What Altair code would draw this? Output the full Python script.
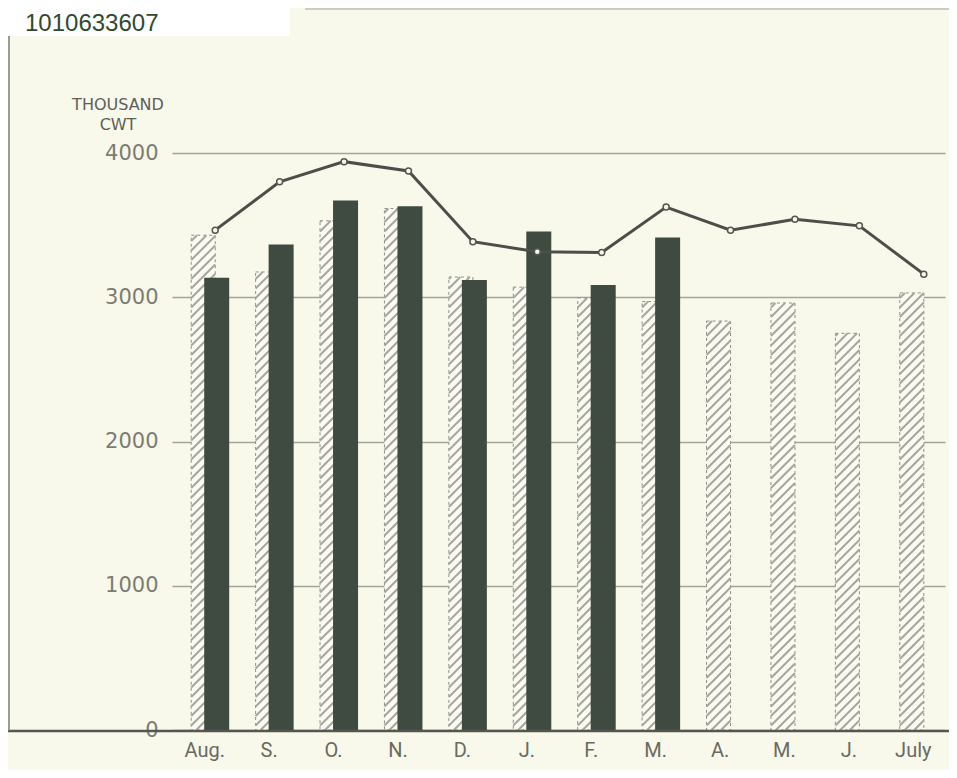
import altair as alt
import pandas as pd

# ---- data ----
months = ["Aug.", "S.", "O.", "N.", "D.", "J.", "F.", "M.", "A.", "M.", "J.", "July"]
prev_year = [3430, 3175, 3530, 3615, 3140, 3070, 2995, 2970, 2835, 2960, 2750, 3030]
this_year = [3135, 3365, 3670, 3630, 3120, 3455, 3085, 3415]
average = [3465, 3800, 3940, 3875, 3385, 3315, 3310, 3625, 3465, 3540, 3495, 3160]
y_ticks = [0, 1000, 2000, 3000, 4000]
unit_lines = ["THOUSAND", "CWT"]
doc_id = "1010633607"

# ---- layout constants ----
W, H = 773, 577
PX = 12 / W          # x data units per pixel
YU = 4000 / H        # y data units per pixel

df_prev = pd.DataFrame({"idx": list(range(len(months))), "prev": prev_year})
df_curr = pd.DataFrame({"idx": list(range(len(this_year))), "curr": this_year})
df_avg = pd.DataFrame({"idx": list(range(len(months))), "avg": average})
one = pd.DataFrame({"k": [0]})

label_list = "[" + ",".join("'" + m + "'" for m in months) + "]"

xscale = alt.Scale(domain=[0, 12], nice=False, zero=False)
yscale = alt.Scale(domain=[0, 4000], nice=False, zero=True)

xaxis = alt.Axis(
    values=[i + 0.5 for i in range(12)],
    labelExpr=f"{label_list}[floor(datum.value)]",
    title=None,
)
yaxis = alt.Axis(values=y_ticks, format="d", title=None)


def X(field):
    return alt.X(field, type="quantitative", scale=xscale, axis=xaxis)


def Y(field):
    return alt.Y(field, type="quantitative", scale=yscale, axis=yaxis)


hatched = alt.Chart(df_prev).transform_calculate(
    x1=f"datum.idx + 0.5 - {13 * PX}",
    x2=f"datum.idx + 0.5 + {11 * PX}",
).mark_bar(fill="#fbfbf3", stroke="#8e8f86", strokeDash=[3, 3], strokeWidth=1).encode(
    x=X("x1"), x2="x2:Q", y=Y("prev"), y2=alt.datum(0),
)

SH = 24 * YU
SP = 9.5 * YU
stripes = alt.Chart(df_prev).transform_calculate(
    s=f"sequence({-SH}, datum.prev, {SP})"
).transform_flatten(["s"]).transform_calculate(
    t0=f"max(0, -datum.s / {SH})",
    t1=f"min(1, (datum.prev - datum.s) / {SH})",
    L=f"datum.idx + 0.5 - {13 * PX}",
).transform_filter("datum.t1 > datum.t0").transform_calculate(
    sx1=f"datum.L + datum.t0 * {24 * PX}",
    sy1=f"datum.s + datum.t0 * {SH}",
    sx2=f"datum.L + datum.t1 * {24 * PX}",
    sy2=f"datum.s + datum.t1 * {SH}",
).mark_rule(color="#a6a79c", strokeWidth=2).encode(
    x=X("sx1"), y=Y("sy1"), x2="sx2:Q", y2="sy2:Q",
)

dark = alt.Chart(df_curr).transform_calculate(
    x1="datum.idx + 0.5",
    x2=f"datum.idx + 0.5 + {25 * PX}",
).mark_bar(color="#3f4b40").encode(
    x=X("x1"), x2="x2:Q", y=Y("curr"), y2=alt.datum(0),
)

baseline = alt.Chart(one).mark_rule(color="#55564f", strokeWidth=2.5).encode(
    x=alt.value(-164), x2=alt.value(W + 12), y=alt.value(H + 1)
)

line_base = alt.Chart(df_avg).transform_calculate(
    xp=f"datum.idx + 0.5 + {11 * PX}"
)
avg_line = line_base.mark_line(color="#4c4f49", strokeWidth=3).encode(
    x=X("xp"), y=Y("avg"),
)
avg_pts = line_base.mark_point(
    shape="circle", filled=True, fill="#f6f6ec", stroke="#55574f",
    strokeWidth=1.5, size=36, opacity=1,
).encode(
    x=X("xp"), y=Y("avg"),
)

unit_1 = alt.Chart(one).mark_text(
    text=unit_lines[0], align="center", baseline="alphabetic",
    font="DejaVu Sans", fontSize=16, color="#5e5f58",
).encode(x=alt.value(-54), y=alt.value(-43))
unit_2 = alt.Chart(one).mark_text(
    text=unit_lines[1], align="center", baseline="alphabetic",
    font="DejaVu Sans", fontSize=16, color="#5e5f58",
).encode(x=alt.value(-54), y=alt.value(-23))

frame_left = alt.Chart(one).mark_rule(color="#7d7e76", strokeWidth=1.5).encode(
    x=alt.value(-163), y=alt.value(-118), y2=alt.value(H + 1)
)
frame_top = alt.Chart(one).mark_rule(color="#a0a198", strokeWidth=1).encode(
    x=alt.value(133), x2=alt.value(W + 12), y=alt.value(-144)
)
white_box = alt.Chart(one).mark_rect(color="#ffffff").encode(
    x=alt.value(-164), x2=alt.value(118), y=alt.value(-145), y2=alt.value(-117)
)
id_text = alt.Chart(one).mark_text(
    text=doc_id, align="left", baseline="alphabetic",
    font="Liberation Sans", fontSize=24, color="#2f4a31",
).encode(x=alt.value(-147), y=alt.value(-122))

chart = alt.layer(
    hatched, stripes, dark, baseline, avg_line, avg_pts,
    unit_1, unit_2, frame_left, frame_top, white_box, id_text,
).properties(
    width=W, height=H,
    background="#f8f8eb",
    padding={"left": 164, "top": 145, "right": 4, "bottom": 40},
    autosize=alt.AutoSizeParams(type="none"),
).configure_view(stroke=None).configure_axisX(
    domain=False, ticks=False, grid=False,
    labelFont="Liberation Sans Narrow, Roboto, sans-serif", labelFontSize=20,
    labelColor="#6a6a62", labelPadding=10,
).configure_axisY(
    grid=True, gridColor="#a4a59a", gridWidth=1.5,
    domain=False, ticks=False,
    labelFont="DejaVu Sans", labelFontSize=21, labelColor="#7c7c72",
    labelPadding=14,
)

chart.save("out.html", embed_options={"renderer": "svg", "actions": False})
